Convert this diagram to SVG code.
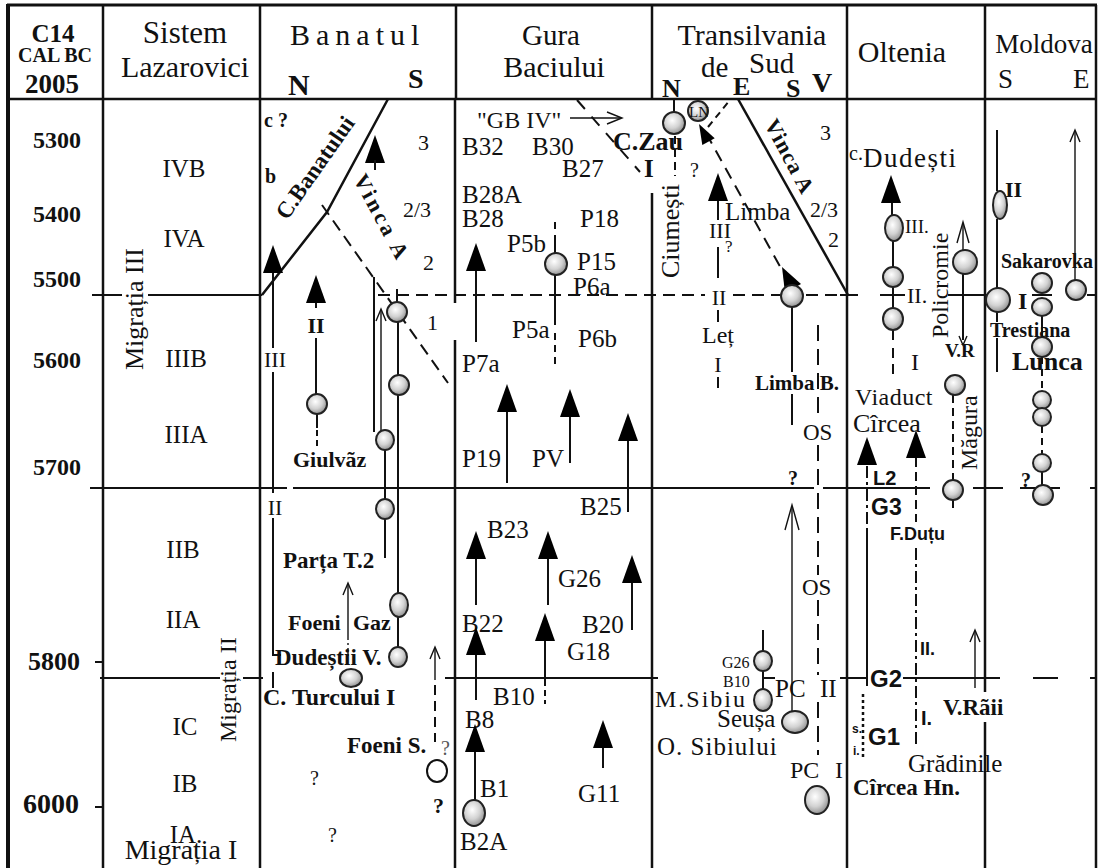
<svg xmlns="http://www.w3.org/2000/svg" width="1100" height="868" viewBox="0 0 1100 868">
<style>
.t{font-family:"Liberation Serif","Times New Roman",serif;fill:#111}
.b{font-weight:bold}
.s{font-family:"Liberation Sans",Arial,sans-serif;font-weight:bold;fill:#111}
.m{text-anchor:middle}
.ln{stroke:#111;fill:none}
.c{fill:url(#gr);stroke:#222;stroke-width:2}
</style>
<defs>
<radialGradient id="gr" cx="0.42" cy="0.38" r="0.65">
<stop offset="0" stop-color="#ffffff"/>
<stop offset="0.55" stop-color="#d2d2d2"/>
<stop offset="1" stop-color="#8c8c8c"/>
</radialGradient>
<path id="ah" d="M0,0 L10,28 L-10,28 Z" fill="#000"/>
<path id="oh" d="M-5,12 L0,0 L5,12" fill="none" stroke="#111" stroke-width="1.4"/>
</defs>
<rect width="1100" height="868" fill="#fff"/>

<g id="frame" class="ln" stroke-width="2.5">
<line x1="7" y1="5" x2="1097" y2="5" stroke-width="3"/>
<line x1="8" y1="4" x2="8" y2="868" stroke-width="4"/>
<line x1="8" y1="99" x2="1097" y2="99"/>
<line x1="103" y1="5" x2="103" y2="868"/>
<line x1="260" y1="5" x2="260" y2="868"/>
<line x1="456" y1="5" x2="456" y2="99"/>
<line x1="455" y1="99" x2="455" y2="303"/>
<line x1="455" y1="340" x2="455" y2="868"/>
<line x1="652" y1="5" x2="652" y2="99"/>
<line x1="652" y1="193" x2="652" y2="868"/>
<line x1="847" y1="5" x2="847" y2="868"/>
<line x1="985" y1="5" x2="985" y2="692"/>
<line x1="985" y1="722" x2="985" y2="868"/>
<line x1="1096" y1="5" x2="1096" y2="868"/>
</g>

<g id="header">
<text class="t b m" x="53" y="42" font-size="25">C14</text>
<text class="t b m" x="55" y="62" font-size="20">CAL BC</text>
<text class="t b m" x="52" y="93" font-size="27">2005</text>
<text class="t m" x="185" y="43" font-size="31">Sistem</text>
<text class="t m" x="185" y="77" font-size="30">Lazarovici</text>
<text class="t" x="290" y="45" font-size="30" letter-spacing="6">Banatul</text>
<text class="t b" x="288" y="95" font-size="30">N</text>
<text class="t b" x="408" y="88" font-size="28">S</text>
<text class="t m" x="551" y="45" font-size="29">Gura</text>
<text class="t m" x="554" y="77" font-size="30">Baciului</text>
<text class="t m" x="752" y="45" font-size="30">Transilvania</text>
<text class="t" x="701" y="77" font-size="29">de</text>
<text class="t b" x="662" y="97" font-size="26">N</text>
<text class="t b" x="733" y="95" font-size="26">E</text>
<text class="t" x="749" y="73" font-size="29">Sud</text>
<text class="t b" x="786" y="97" font-size="26">S</text>
<text class="t b" x="812" y="92" font-size="28">V</text>
<text class="t m" x="902" y="62" font-size="30">Oltenia</text>
<text class="t m" x="1044" y="53" font-size="27">Moldova</text>
<text class="t" x="998" y="88" font-size="27">S</text>
<text class="t" x="1073" y="88" font-size="27">E</text>
</g>

<g id="grid" class="ln" stroke-width="2">
<line x1="92" y1="295" x2="122" y2="295"/>
<line x1="148" y1="295" x2="262" y2="295"/>
<line x1="378" y1="295" x2="705" y2="295" stroke-dasharray="12 7"/>
<line x1="733" y1="295" x2="780" y2="295" stroke-dasharray="12 7"/>
<line x1="806" y1="295" x2="840" y2="295" stroke-dasharray="12 7"/>
<line x1="840" y1="295" x2="858" y2="295"/>
<line x1="880" y1="295" x2="905" y2="295"/>
<line x1="948" y1="295" x2="987" y2="295"/>
<line x1="1032" y1="295" x2="1052" y2="295"/>
<line x1="1087" y1="295" x2="1097" y2="295"/>
<line x1="90" y1="488" x2="287" y2="488"/>
<line x1="293" y1="488" x2="814" y2="488"/>
<line x1="823" y1="488" x2="930" y2="488"/>
<line x1="973" y1="488" x2="1003" y2="488"/>
<line x1="1020" y1="488" x2="1060" y2="488"/>
<line x1="1090" y1="488" x2="1097" y2="488"/>
<line x1="100" y1="678" x2="220" y2="678"/>
<line x1="243" y1="678" x2="263" y2="678"/>
<line x1="445" y1="678" x2="658" y2="678"/>
<line x1="840" y1="678" x2="868" y2="678"/>
<line x1="903" y1="678" x2="1000" y2="678"/>
<line x1="1033" y1="678" x2="1058" y2="678"/>
<line x1="1090" y1="678" x2="1097" y2="678"/>
<line x1="95" y1="662" x2="103" y2="662"/>
<line x1="95" y1="807" x2="103" y2="807"/>
</g>

<g id="col-c14">
<text class="t b m" x="57" y="148" font-size="24">5300</text>
<text class="t b m" x="57" y="222" font-size="24">5400</text>
<text class="t b m" x="57" y="287" font-size="24">5500</text>
<text class="t b m" x="57" y="368" font-size="24">5600</text>
<text class="t b m" x="57" y="475" font-size="24">5700</text>
<text class="t b m" x="54" y="670" font-size="26">5800</text>
<text class="t b m" x="51" y="813" font-size="28">6000</text>
</g>

<g id="col-sistem">
<text class="t m" x="184" y="177" font-size="25">IVB</text>
<text class="t m" x="184" y="247" font-size="25">IVA</text>
<text class="t m" x="186" y="367" font-size="25">IIIB</text>
<text class="t m" x="186" y="443" font-size="25">IIIA</text>
<text class="t m" x="183" y="558" font-size="25">IIB</text>
<text class="t m" x="183" y="628" font-size="25">IIA</text>
<text class="t m" x="185" y="735" font-size="25">IC</text>
<text class="t m" x="185" y="792" font-size="25">IB</text>
<text class="t m" x="186" y="843" font-size="25">IA.</text>
<text class="t m" x="181" y="859" font-size="28">Migrația I</text>
<text class="t" transform="translate(143,370) rotate(-90)" font-size="26">Migrația III</text>
<text class="t" transform="translate(236,742) rotate(-90)" font-size="24">Migrația II</text>
</g>

<g id="col-banatul">
<text class="t b" x="264" y="127" font-size="20">c ?</text>
<text class="t b" x="265" y="183" font-size="20">b</text>
<polyline class="ln" stroke-width="2.5" points="262,295 327,212 388,99"/>
<text class="t b" transform="translate(287,221) rotate(-55)" font-size="23">C.Banatului</text>
<line class="ln" stroke-width="2" stroke-dasharray="12 7" x1="322" y1="205" x2="448" y2="383"/>
<text class="t b" transform="translate(353,179) rotate(62)" font-size="22" letter-spacing="3">Vinca A</text>
<use href="#ah" x="375" y="135"/>
<g class="ln" stroke-width="2">
<line x1="375" y1="160" x2="375" y2="170"/>
<line x1="273" y1="270" x2="273" y2="348"/>
<line x1="273" y1="372" x2="273" y2="493"/>
<polyline points="273,518 273,655 281,655"/>
<line x1="273" y1="672" x2="273" y2="688"/>
<line x1="316" y1="300" x2="316" y2="308"/>
<line x1="316" y1="338" x2="316" y2="394"/>
<line x1="317" y1="414" x2="317" y2="428"/>
<line x1="317" y1="430" x2="317" y2="447" stroke-dasharray="6 4"/>
<line x1="374" y1="277" x2="374" y2="432"/>
<line x1="397" y1="289" x2="397" y2="302"/>
<line x1="398" y1="322" x2="398" y2="375"/>
<line x1="398" y1="395" x2="398" y2="593"/>
<line x1="398" y1="617" x2="398" y2="647"/>
<line x1="385" y1="450" x2="385" y2="499"/>
<line x1="385" y1="519" x2="385" y2="558"/>
<line x1="435" y1="685" x2="435" y2="742" stroke-dasharray="10 6"/>
</g>
<g class="ln" stroke-width="1.4">
<line x1="381" y1="311" x2="381" y2="432"/>
<line x1="348" y1="585" x2="348" y2="632"/>
<line x1="348" y1="632" x2="348" y2="656" stroke-dasharray="8 3 2 3"/>
<line x1="435" y1="649" x2="435" y2="680"/>
</g>
<text class="t" x="418" y="150" font-size="22">3</text>
<text class="t" x="403" y="217" font-size="22">2/3</text>
<text class="t" x="423" y="270" font-size="22">2</text>
<text class="t" x="427" y="330" font-size="22">1</text>
<use href="#ah" x="273" y="245"/>
<text class="t m" x="275" y="367" font-size="22">III</text>
<text class="t m" x="275" y="515" font-size="22">II</text>
<use href="#ah" x="316" y="275"/>
<text class="t b m" x="316" y="333" font-size="22">II</text>
<ellipse class="c" cx="317" cy="404" rx="10" ry="10"/>
<text class="t b" x="293" y="467" font-size="22">Giulvãz</text>
<use href="#oh" x="381" y="309"/>
<ellipse class="c" cx="397" cy="312" rx="10" ry="10"/>
<ellipse class="c" cx="399" cy="385" rx="10" ry="10"/>
<ellipse class="c" cx="399" cy="605" rx="9" ry="12"/>
<ellipse class="c" cx="398" cy="657" rx="9" ry="10"/>
<ellipse class="c" cx="385" cy="440" rx="9" ry="10"/>
<ellipse class="c" cx="385" cy="509" rx="9" ry="10"/>
<text class="t b" x="283" y="568" font-size="23">Parța T.2</text>
<use href="#oh" x="348" y="583"/>
<text class="t b" x="288" y="630" font-size="22">Foeni</text>
<text class="t b" x="353" y="630" font-size="22">Gaz</text>
<text class="t b" x="275" y="665" font-size="23">Dudeștii V.</text>
<ellipse class="c" cx="351" cy="678" rx="11" ry="9"/>
<text class="t b" x="263" y="705" font-size="24">C. Turcului I</text>
<use href="#oh" x="435" y="647"/>
<text class="t b" x="347" y="753" font-size="23">Foeni S.</text>
<text class="t" x="441" y="755" font-size="20" style="fill:#555">?</text>
<ellipse cx="437" cy="771" rx="10" ry="11" fill="#fff" stroke="#111" stroke-width="2"/>
<text class="t b" x="433" y="813" font-size="22">?</text>
<text class="t" x="310" y="785" font-size="20">?</text>
<text class="t" x="328" y="842" font-size="20">?</text>
</g>

<g id="col-gura">
<text class="t" x="477" y="128" font-size="24">"GB IV"</text>
<line class="ln" stroke-width="1.4" x1="570" y1="118" x2="621" y2="118"/>
<path class="ln" stroke-width="1.4" d="M607,112 L622,118 L607,124"/>
<line class="ln" stroke-width="2" stroke-dasharray="12 10" x1="577" y1="100" x2="640" y2="172"/>
<text class="t" x="462" y="155" font-size="25">B32</text>
<text class="t" x="532" y="155" font-size="25">B30</text>
<text class="t b" x="613" y="150" font-size="26">C.Zau</text>
<text class="t" x="562" y="177" font-size="25">B27</text>
<text class="t b" x="644" y="177" font-size="25">I</text>
<text class="t" x="462" y="203" font-size="25">B28A</text>
<text class="t" x="462" y="227" font-size="25">B28</text>
<text class="t" x="580" y="227" font-size="25">P18</text>
<text class="t" x="507" y="252" font-size="25">P5b</text>
<text class="t" x="577" y="270" font-size="25">P15</text>
<text class="t" x="573" y="295" font-size="25">P6a</text>
<text class="t" x="512" y="338" font-size="25">P5a</text>
<text class="t" x="578" y="347" font-size="25">P6b</text>
<text class="t" x="462" y="372" font-size="25">P7a</text>
<text class="t" x="462" y="467" font-size="25">P19</text>
<text class="t" x="532" y="467" font-size="25">PV</text>
<text class="t" x="580" y="515" font-size="25">B25</text>
<text class="t" x="487" y="538" font-size="25">B23</text>
<text class="t" x="558" y="587" font-size="25">G26</text>
<text class="t" x="462" y="632" font-size="25">B22</text>
<text class="t" x="582" y="633" font-size="25">B20</text>
<text class="t" x="567" y="660" font-size="25">G18</text>
<text class="t" x="493" y="705" font-size="25">B10</text>
<text class="t" x="465" y="728" font-size="25">B8</text>
<text class="t" x="480" y="797" font-size="25">B1</text>
<text class="t" x="578" y="802" font-size="25">G11</text>
<text class="t" x="460" y="850" font-size="25">B2A</text>
<g class="ln" stroke-width="2">
<line x1="555" y1="222" x2="555" y2="229"/>
<line x1="555" y1="235" x2="555" y2="253"/>
<line x1="555" y1="275" x2="555" y2="325"/>
<line x1="555" y1="333" x2="555" y2="368" stroke-dasharray="7 5"/>
<line x1="476" y1="270" x2="476" y2="342"/>
<line x1="507" y1="411" x2="507" y2="483"/>
<line x1="570" y1="416" x2="570" y2="463"/>
<line x1="628" y1="440" x2="628" y2="512"/>
<line x1="476" y1="558" x2="476" y2="605"/>
<line x1="548" y1="558" x2="548" y2="605"/>
<line x1="632" y1="582" x2="632" y2="630"/>
<line x1="476" y1="654" x2="476" y2="700"/>
<line x1="545" y1="640" x2="545" y2="686"/>
<line x1="545" y1="690" x2="545" y2="704" stroke-dasharray="6 4"/>
<line x1="475" y1="751" x2="475" y2="801"/>
<line x1="603" y1="747" x2="603" y2="768"/>
</g>
<ellipse class="c" cx="556" cy="264" rx="11" ry="11"/>
<use href="#ah" x="476" y="243"/>
<use href="#ah" x="507" y="384"/>
<use href="#ah" x="570" y="389"/>
<use href="#ah" x="628" y="413"/>
<use href="#ah" x="476" y="531"/>
<use href="#ah" x="548" y="531"/>
<use href="#ah" x="632" y="555"/>
<use href="#ah" x="476" y="627"/>
<use href="#ah" x="545" y="613"/>
<use href="#ah" x="475" y="724"/>
<ellipse class="c" cx="474" cy="813" rx="11" ry="13"/>
<use href="#ah" x="603" y="720"/>
</g>

<g id="col-transilvania">
<g class="ln" stroke-width="2">
<line x1="674" y1="99" x2="674" y2="112"/>
<line x1="675" y1="136" x2="675" y2="176" stroke-dasharray="8 5"/>
<line x1="708" y1="127" x2="730" y2="100" stroke-dasharray="7 5"/>
<line x1="706" y1="133" x2="782" y2="270" stroke-dasharray="12 8"/>
<line x1="738" y1="99" x2="848" y2="295" stroke-width="2.5"/>
<line x1="718" y1="200" x2="718" y2="220"/>
<line x1="718" y1="247" x2="718" y2="278"/>
<line x1="718" y1="310" x2="718" y2="322"/>
<line x1="718" y1="377" x2="718" y2="388"/>
<line x1="792" y1="307" x2="792" y2="372"/>
<line x1="792" y1="394" x2="792" y2="425"/>
<line x1="818" y1="325" x2="818" y2="415" stroke-dasharray="16 8"/>
<line x1="818" y1="445" x2="818" y2="575" stroke-dasharray="16 8"/>
<line x1="818" y1="600" x2="818" y2="675" stroke-dasharray="16 8"/>
<line x1="818" y1="702" x2="818" y2="755" stroke-dasharray="16 8"/>
<line x1="763" y1="630" x2="763" y2="651"/>
<line x1="763" y1="671" x2="763" y2="689"/>
<line x1="763" y1="678" x2="775" y2="678"/>
</g>
<g class="ln" stroke-width="1.4">
<line x1="792" y1="507" x2="792" y2="712"/>
<path d="M785,530 L792,505 L799,530"/>
</g>
<ellipse class="c" cx="674" cy="123" rx="11" ry="11"/>
<ellipse class="c" cx="698" cy="111" rx="10" ry="10"/>
<text class="t" x="689" y="117" font-size="15">LN</text>
<polygon points="699,124 714.7,138.3 702.3,144.9" fill="#000"/>
<polygon points="782,267 801,284 785,293" fill="#000"/>
<text class="t" x="690" y="177" font-size="20">?</text>
<text class="t" transform="translate(679,278) rotate(-90)" font-size="26">Ciumești</text>
<text class="t b" transform="translate(764,124) rotate(62)" font-size="22" letter-spacing="1">Vinca A</text>
<text class="t" x="820" y="140" font-size="22">3</text>
<text class="t" x="810" y="217" font-size="22">2/3</text>
<text class="t" x="828" y="247" font-size="22">2</text>
<text class="t" x="725" y="220" font-size="25">Limba</text>
<use href="#ah" x="718" y="173"/>
<text class="t m" x="720" y="238" font-size="22">III</text>
<text class="t" x="725" y="252" font-size="17">?</text>
<text class="t m" x="719" y="305" font-size="22">II</text>
<text class="t" x="702" y="343" font-size="24">Leț</text>
<text class="t m" x="718" y="372" font-size="22">I</text>
<ellipse class="c" cx="792" cy="296" rx="11" ry="11"/>
<text class="t b" x="755" y="390" font-size="21">Limba B.</text>
<text class="t" x="803" y="440" font-size="23">OS</text>
<text class="t" x="802" y="595" font-size="23">OS</text>
<text class="t b" x="788" y="485" font-size="20">?</text>
<text class="t" x="775" y="697" font-size="25">PC</text>
<text class="t" x="820" y="697" font-size="25">II</text>
<ellipse class="c" cx="795" cy="722" rx="13" ry="11"/>
<ellipse class="c" cx="763" cy="661" rx="9" ry="10"/>
<ellipse class="c" cx="763" cy="700" rx="9" ry="11"/>
<text class="t" x="722" y="668" font-size="16">G26</text>
<text class="t" x="723" y="687" font-size="16">B10</text>
<text class="t" x="655" y="707" font-size="24" letter-spacing="2">M.Sibiu</text>
<text class="t" x="717" y="727" font-size="25">Seușa</text>
<text class="t" x="657" y="755" font-size="25" letter-spacing="1">O. Sibiului</text>
<text class="t" x="790" y="778" font-size="24">PC</text>
<text class="t" x="835" y="778" font-size="24">I</text>
<ellipse class="c" cx="817" cy="800" rx="12" ry="14"/>
</g>

<g id="col-oltenia">
<g class="ln" stroke-width="2">
<line x1="892" y1="202" x2="892" y2="215"/>
<line x1="893" y1="241" x2="893" y2="268"/>
<line x1="893" y1="287" x2="893" y2="309"/>
<line x1="893" y1="330" x2="893" y2="340"/>
<line x1="893" y1="348" x2="893" y2="378" stroke-dasharray="10 6"/>
<line x1="963" y1="274" x2="963" y2="340"/>
<line x1="953" y1="395" x2="953" y2="480" stroke-dasharray="8 5"/>
<line x1="953" y1="500" x2="953" y2="508"/>
<line x1="867" y1="466" x2="867" y2="530" stroke-dasharray="12 4 3 4"/>
<line x1="867" y1="530" x2="867" y2="686"/>
<line x1="916" y1="458" x2="916" y2="522" stroke-dasharray="9 5"/>
<line x1="916" y1="548" x2="916" y2="745" stroke-dasharray="12 4 3 4"/>
<line x1="863" y1="694" x2="863" y2="758" stroke-width="2.5" stroke-dasharray="3 3"/>
</g>
<g class="ln" stroke-width="1.4">
<line x1="963" y1="224" x2="963" y2="250"/>
<path d="M957,243 L963,222 L969,243"/>
<path d="M959,336 L963,345 L967,336"/>
<line x1="975" y1="632" x2="975" y2="688"/>
</g>
<text class="t" x="849" y="160" font-size="20">c.</text>
<text class="t" x="863" y="167" font-size="27" letter-spacing="1.5">Dudești</text>
<use href="#ah" x="891" y="175"/>
<ellipse class="c" cx="894" cy="228" rx="9" ry="13"/>
<text class="t" x="905" y="233" font-size="19">III.</text>
<ellipse class="c" cx="893" cy="277" rx="10" ry="10"/>
<text class="t" x="907" y="303" font-size="22">II.</text>
<ellipse class="c" cx="893" cy="319" rx="10" ry="11"/>
<text class="t" x="911" y="370" font-size="24">I</text>
<text class="t" transform="translate(948,338) rotate(-90)" font-size="24">Policromie</text>
<ellipse class="c" cx="965" cy="262" rx="12" ry="12"/>
<text class="t b" x="945" y="357" font-size="19">V.R</text>
<ellipse class="c" cx="955" cy="385" rx="10" ry="10"/>
<text class="t" transform="translate(977,470) rotate(-90)" font-size="24">Măgura</text>
<ellipse class="c" cx="953" cy="490" rx="10" ry="10"/>
<text class="t" x="855" y="405" font-size="24" letter-spacing="0.5">Viaduct</text>
<text class="t" x="853" y="432" font-size="26">Cîrcea</text>
<use href="#ah" x="867" y="437"/>
<text class="s" x="873" y="485" font-size="20">L2</text>
<text class="s" x="871" y="515" font-size="23">G3</text>
<use href="#ah" x="916" y="430"/>
<text class="s" x="890" y="540" font-size="18">F.Duțu</text>
<text class="s" x="920" y="655" font-size="18">II.</text>
<text class="s" x="921" y="725" font-size="20">I.</text>
<text class="s" x="870" y="687" font-size="24">G2</text>
<text class="s" x="852" y="733" font-size="12">s.</text>
<text class="s" x="853" y="755" font-size="12">i.</text>
<text class="s" x="868" y="745" font-size="24">G1</text>
<use href="#oh" x="975" y="630"/>
<text class="t b" x="943" y="715" font-size="23">V.Rãii</text>
<text class="t" x="908" y="772" font-size="25">Grădinile</text>
<text class="t b" x="853" y="795" font-size="23">Cîrcea Hn.</text>
</g>

<g id="col-moldova">
<g class="ln" stroke-width="2">
<line x1="997" y1="130" x2="997" y2="191"/>
<line x1="997" y1="219" x2="997" y2="288"/>
<line x1="997" y1="312" x2="997" y2="322"/>
<line x1="997" y1="338" x2="997" y2="372"/>
<line x1="1042" y1="316" x2="1042" y2="337"/>
<line x1="1042" y1="357" x2="1042" y2="392" stroke-dasharray="7 5"/>
<line x1="1042" y1="426" x2="1042" y2="455" stroke-dasharray="7 5"/>
<line x1="1042" y1="472" x2="1042" y2="485"/>
</g>
<line class="ln" stroke-width="1.4" x1="1075" y1="132" x2="1075" y2="280"/>
<use href="#oh" x="1075" y="130"/>
<ellipse class="c" cx="1000" cy="205" rx="7" ry="14"/>
<text class="t b" x="1005" y="197" font-size="22">II</text>
<ellipse class="c" cx="998" cy="300" rx="12" ry="12"/>
<text class="t b" x="1018" y="309" font-size="24">I</text>
<ellipse class="c" cx="1076" cy="290" rx="10" ry="10"/>
<text class="t b" x="1001" y="268" font-size="20">Sakarovka</text>
<ellipse class="c" cx="1042" cy="283" rx="10" ry="10"/>
<ellipse class="c" cx="1042" cy="307" rx="10" ry="9"/>
<ellipse class="c" cx="1042" cy="347" rx="10" ry="10"/>
<ellipse class="c" cx="1042" cy="400" rx="9" ry="9"/>
<ellipse class="c" cx="1042" cy="417" rx="9" ry="9"/>
<ellipse class="c" cx="1042" cy="463" rx="9" ry="9"/>
<ellipse class="c" cx="1043" cy="495" rx="10" ry="10"/>
<text class="t b" x="1021" y="487" font-size="20">?</text>
<text class="t b" x="990" y="337" font-size="20">Trestiana</text>
<text class="t b" x="1012" y="370" font-size="26">Lunca</text>
</g>
</svg>
